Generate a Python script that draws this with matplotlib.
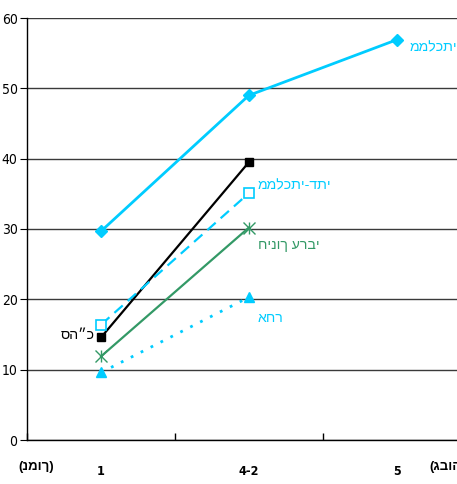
import matplotlib
matplotlib.use("Agg")
import matplotlib.pyplot as plt

# =============================================================================
# DATA
# =============================================================================

CATEGORIES = ["1", "4-2", "5"]

MAMLACHTI = [29.7, 49.0, 56.9]
TOTAL = [14.6, 39.5]
MAMLACHTI_DATI = [16.4, 35.1]
ARAB = [11.9, 30.2]
OTHER = [9.6, 20.3]

LABELS = {
    "mamlachti": "ממלכתי",
    "dati": "ממלכתי-דתי",
    "arab": "חינוך ערבי",
    "other": "אחר",
    "total": "סה״כ",
}
LOW_LABEL = "(נמוך)"
HIGH_LABEL = "(גבוה)"

CYAN = "#00CCFF"
GREEN = "#339966"
HEB_FONT = ["Liberation Sans", "DejaVu Sans"]

plt.rcParams["font.family"] = ["DejaVu Sans"]

fig = plt.figure(figsize=(4.57, 4.84), dpi=100)
ax = fig.add_axes([27.25 / 457, 44 / 484, (470.5 - 27.25) / 457, 422 / 484])

x_all = [1, 2, 3]
x_two = [1, 2]

ax.plot(x_all, MAMLACHTI, color=CYAN, lw=2, marker="D", ms=6,
        mfc=CYAN, mec=CYAN, zorder=5)
ax.plot(x_two, TOTAL, color="black", lw=1.6, marker="s", ms=5.5,
        mfc="black", mec="black", zorder=5)
ax.plot(x_two, MAMLACHTI_DATI, color=CYAN, lw=1.6, ls=(0, (5, 3)),
        marker="s", ms=7, mfc="white", mec=CYAN, mew=1.2, zorder=6)
ax.plot(x_two, ARAB, color=GREEN, lw=1.6, zorder=5)
ax.plot(x_two, ARAB, ls="none", marker="x", ms=8, mec=GREEN, mew=1, zorder=6)
ax.plot(x_two, ARAB, ls="none", marker="|", ms=9, mec=GREEN, mew=1, zorder=6)
ax.plot(x_two, OTHER, color=CYAN, lw=2, ls=(0, (1, 3)),
        marker="^", ms=7, mfc=CYAN, mec=CYAN, zorder=5)

ax.set_xlim(0.5, 3.5)
ax.set_ylim(0, 60)
ax.set_yticks(range(0, 61, 10))
ax.yaxis.grid(True, color="#3a3a3a", lw=1)
ax.set_axisbelow(True)

ax.set_xticks([0.5, 1.5, 2.5, 3.5])
ax.set_xticklabels([])
ax.set_xticks(x_all, minor=True)
ax.set_xticklabels(CATEGORIES, minor=True, fontsize=9, fontweight="bold",
                   fontstretch="condensed")
ax.tick_params(axis="x", which="minor", length=0, pad=18)
ax.tick_params(axis="x", which="major", length=5, direction="in", width=1)
ax.tick_params(axis="y", length=5, direction="out", labelsize=10, pad=2)
for t in ax.get_yticklabels():
    t.set_fontstretch("condensed")

for side in ["top", "right"]:
    ax.spines[side].set_visible(False)
ax.spines["left"].set_linewidth(1)
ax.spines["bottom"].set_linewidth(1)

# series labels
ax.text(3.09, 55.9, LABELS["mamlachti"], color=CYAN, fontsize=10.2,
        va="center", ha="left", family=HEB_FONT)
ax.text(2.06, 36.2, LABELS["dati"], color=CYAN, fontsize=10.2,
        va="center", ha="left", family=HEB_FONT)
ax.text(2.06, 27.7, LABELS["arab"], color=GREEN, fontsize=10.2,
        va="center", ha="left", family=HEB_FONT)
ax.text(2.06, 17.3, LABELS["other"], color=CYAN, fontsize=10.2,
        va="center", ha="left", family=HEB_FONT)
ax.text(0.955, 14.9, LABELS["total"], color="black", fontsize=10.2,
        va="center", ha="right", family=HEB_FONT)

# axis end labels
ax.text(0.44, -3.8, LOW_LABEL, fontsize=9.5, va="center", ha="left",
        fontweight="bold", family=HEB_FONT, clip_on=False)
ax.text(3.225, -3.8, HIGH_LABEL, fontsize=9.5, va="center", ha="left",
        fontweight="bold", family=HEB_FONT, clip_on=False)

fig.savefig("out.png", dpi=100)
